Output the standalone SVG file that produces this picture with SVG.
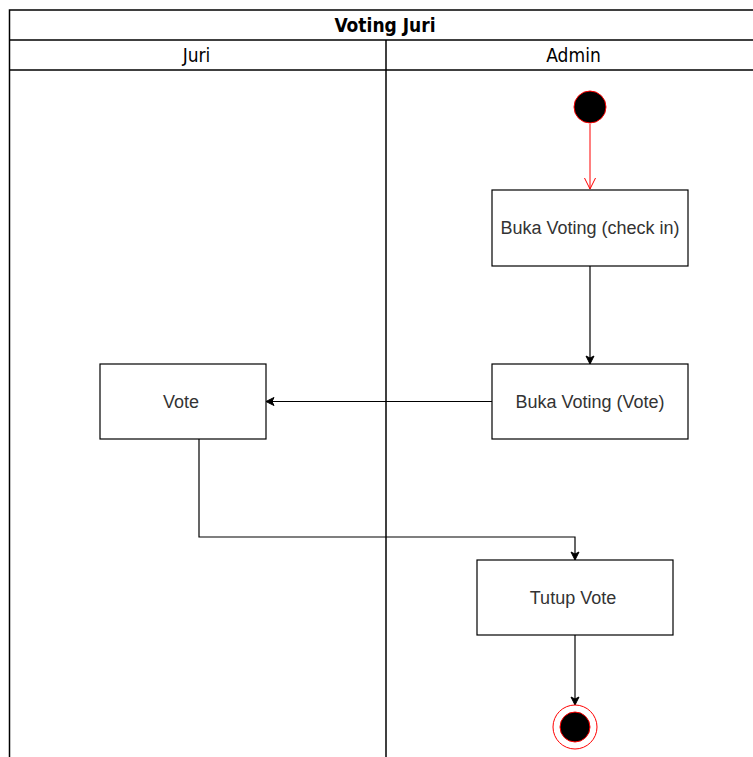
<svg xmlns="http://www.w3.org/2000/svg" width="753" height="757" viewBox="0 0 753 757">
<style>
.lane{fill:#fff;stroke:#000;stroke-width:1.5}
.hdr{font-family:"DejaVu Sans Condensed","DejaVu Sans",sans-serif;font-stretch:condensed;font-size:19px;fill:#000;text-anchor:middle}
.box{fill:#fff;stroke:#000;stroke-width:1.2}
.lbl{font-family:"Liberation Sans",Arial,sans-serif;font-size:18px;fill:#333;text-anchor:middle}
.edge{fill:none;stroke:#000;stroke-width:1.2}
</style>
<defs>
<marker id="arr" markerWidth="10" markerHeight="10" refX="9" refY="5" orient="auto" markerUnits="userSpaceOnUse">
<path d="M1,1 L9,5 L1,9 L3,5 Z" fill="#000" stroke="#000"/>
</marker>
<marker id="open" markerWidth="14" markerHeight="14" refX="12" refY="7" orient="auto" markerUnits="userSpaceOnUse">
<path d="M1,1.5 L12,7 L1,12.5" fill="none" stroke="#ff0000" stroke-width="1"/>
</marker>
</defs>
<g id="pool">
<rect class="lane" x="9.5" y="10" width="760" height="760"/>
<line x1="9.5" y1="40" x2="753" y2="40" stroke="#000" stroke-width="1.5"/>
<line x1="9.5" y1="70" x2="753" y2="70" stroke="#000" stroke-width="1.5"/>
<line x1="386" y1="40" x2="386" y2="757" stroke="#000" stroke-width="1.5"/>
<text class="hdr" x="385" y="32" font-weight="bold">Voting Juri</text>
<text class="hdr" x="196.5" y="62">Juri</text>
<text class="hdr" x="573.5" y="62">Admin</text>
</g>
<g id="connectors">
<line x1="590" y1="124" x2="590" y2="189" stroke="#ff0000" stroke-width="1" marker-end="url(#open)"/>
<line class="edge" x1="590" y1="266" x2="590" y2="364" marker-end="url(#arr)"/>
<line class="edge" x1="492" y1="401.5" x2="266" y2="401.5" marker-end="url(#arr)"/>
<polyline class="edge" points="199,439 199,537 575,537 575,560" marker-end="url(#arr)"/>
<line class="edge" x1="575" y1="635" x2="575" y2="705" marker-end="url(#arr)"/>
</g>
<g id="start">
<circle cx="590" cy="107" r="16" fill="#000" stroke="#ff0000" stroke-width="1"/>
</g>
<g id="buka-checkin">
<rect class="box" x="492" y="190" width="196" height="76"/>
<text class="lbl" x="590" y="234">Buka Voting (check in)</text>
</g>
<g id="buka-vote">
<rect class="box" x="492" y="364" width="196" height="75"/>
<text class="lbl" x="590" y="408">Buka Voting (Vote)</text>
</g>
<g id="vote">
<rect class="box" x="100" y="364" width="166" height="75"/>
<text class="lbl" x="181" y="408">Vote</text>
</g>
<g id="tutup-vote">
<rect class="box" x="477" y="560" width="196" height="75"/>
<text class="lbl" x="573" y="604">Tutup Vote</text>
</g>
<g id="end">
<circle cx="575" cy="727" r="22" fill="#fff" stroke="#ff0000" stroke-width="1"/>
<circle cx="575" cy="727" r="15" fill="#000" stroke="#ff0000" stroke-width="1"/>
</g>
</svg>
